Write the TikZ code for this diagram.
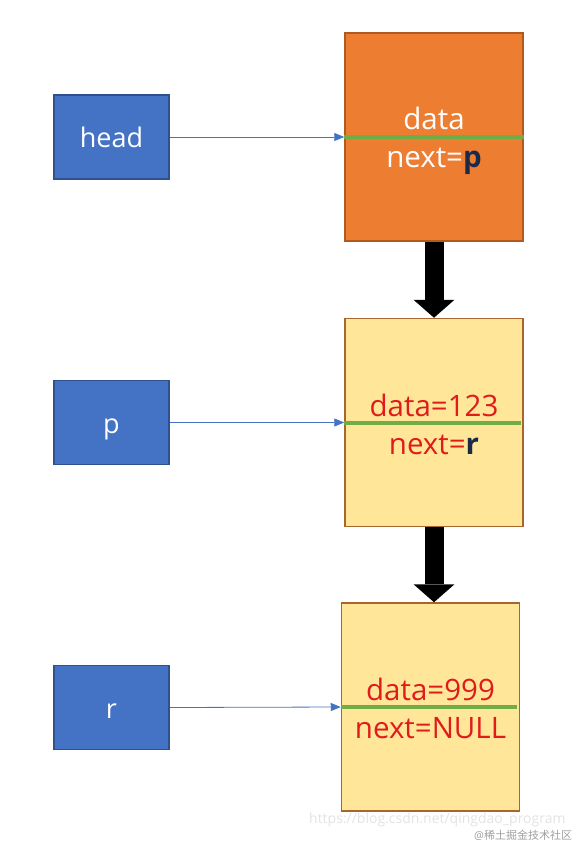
\documentclass[tikz,border=0pt]{standalone}
\usepackage{fontspec}
\setmainfont{Open Sans}
\newfontfamily\cjkfont{Noto Sans CJK SC}
\usetikzlibrary{arrows.meta}

\definecolor{ptrblue}{HTML}{4472C4}
\definecolor{ptrline}{HTML}{2F528F}
\definecolor{headorange}{HTML}{ED7D31}
\definecolor{orangeline}{HTML}{AE5A21}
\definecolor{cellyellow}{HTML}{FFE699}
\definecolor{yellowline}{HTML}{A8652E}
\definecolor{bargreen}{HTML}{70AD47}
\definecolor{datared}{HTML}{E01B1B}
\definecolor{ptrnavy}{HTML}{1C2A4A}

\tikzset{
  ptrbox/.style={draw=ptrline, fill=ptrblue, line width=1.5pt, minimum width=115pt,
    minimum height=84pt, inner sep=0pt, text=white, text height=22pt, text depth=0pt,
    font=\fontsize{27}{32}\selectfont},
  cellbox/.style={line width=1.5pt, minimum width=178pt, minimum height=208pt, inner sep=0pt},
  celltext/.style={anchor=base, inner sep=0pt, font=\fontsize{29.5}{34}\selectfont},
  ptrarrow/.style={draw=ptrblue, line width=0.8pt, -{Triangle[width=8pt,length=10pt]}},
  databar/.style={draw=bargreen, line width=4pt},
  nextarrow/.style={draw=black, line width=19pt, -{Triangle[width=41pt,length=18pt,line width=0pt]}}
}

\begin{document}
\begin{tikzpicture}[x=1pt, y=-1pt]
    \useasboundingbox (0,0) rectangle (588,842);

    % pointers on the left
    \node[ptrbox] (head) at (111.5,137) {head};
    \node[ptrbox] (p) at (111.5,422.5) {p};
    \node[ptrbox] (r) at (111.5,707.5) {r};

    % list cells
    \node[cellbox, draw=orangeline, fill=headorange] (n1) at (434,137) {};
    \node[cellbox, draw=yellowline, fill=cellyellow] (n2) at (434,422.5) {};
    \node[cellbox, draw=yellowline, fill=cellyellow] (n3) at (430.5,707) {};

    \node[celltext, text=white] (d1) at (434,130) {data};
    \node[celltext, text=white] (x1) at (434,168) {next=\textcolor{ptrnavy}{\textbf{p}}};
    \node[celltext, text=datared] (d2) at (434,416) {data=123};
    \node[celltext, text=datared] (x2) at (434,454) {next=\textcolor{ptrnavy}{\textbf{r}}};
    \node[celltext, text=datared] (d3) at (430.5,700) {data=999};
    \node[celltext, text=datared] (x3) at (430.5,738) {next=NULL};

    % pointer links
    \draw[ptrarrow] (head.east) -- (n1.west);
    \draw[ptrarrow] (p.east) -- (n2.west);
    \draw[ptrarrow] (r.east) -- (n3.west);

    \draw[databar] (n1.west) -- (n1.east);
    \draw[databar] (n2.west) -- ([xshift=-3pt]n2.east);
    \draw[databar] (n3.west) -- ([xshift=-3pt]n3.east);

    % next links
    \draw[nextarrow] (n1.south) -- (n2.north);
    \draw[nextarrow] (n2.south) -- (n2.south |- n3.north);

    % watermarks
    \node[anchor=base west, inner sep=0pt, text=gray!22, font=\fontsize{14}{17}\selectfont] (wm1) at (309,823) {https://blog.csdn.net/qingdao\_program};
    \node[anchor=base west, inner sep=0pt, text=gray!75, font=\fontsize{11}{13}\selectfont] (wm2) at (474,839) {@\cjkfont 稀土掘金技术社区};
\end{tikzpicture}
\end{document}
